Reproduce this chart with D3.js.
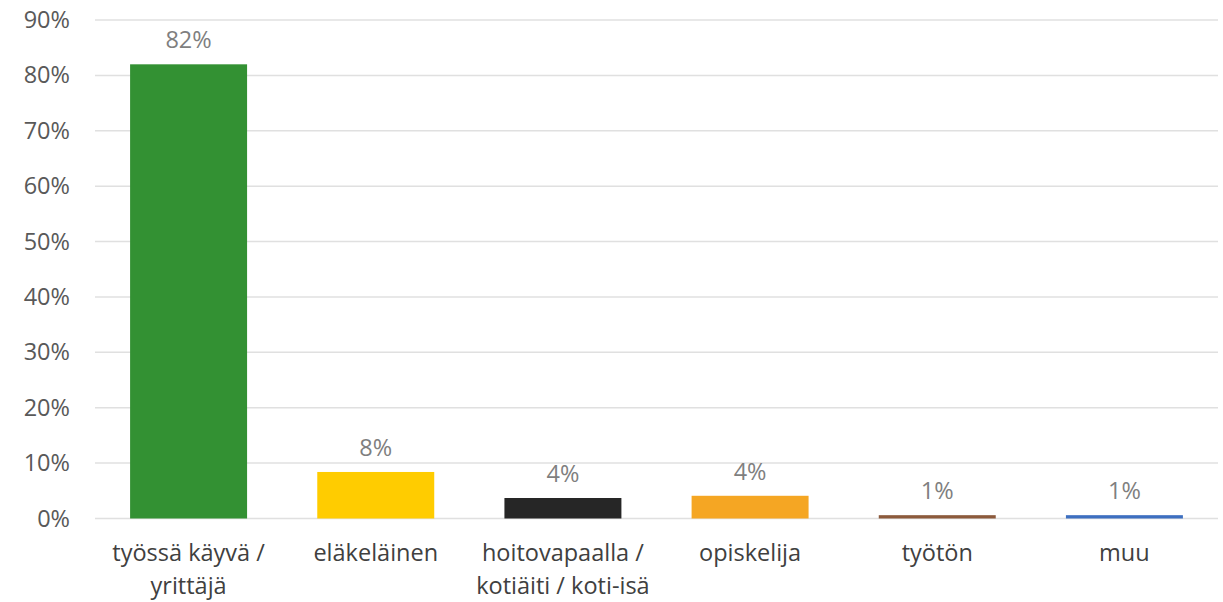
<!DOCTYPE html>
<html><head><meta charset="utf-8">
<script src="https://cdn.jsdelivr.net/npm/d3@7"></script>
<style>body{margin:0;background:#fff;} svg{display:block;font-family:"Open Sans",sans-serif;}</style>
</head><body>
<svg id="c" width="1223" height="602"></svg>
<script>
const categories = [["työssä käyvä /","yrittäjä"],["eläkeläinen"],["hoitovapaalla /","kotiäiti / koti-isä"],["opiskelija"],["työtön"],["muu"]];
const values = [82, 8.4, 3.7, 4.1, 0.6, 0.6];
const labels = ["82%","8%","4%","4%","1%","1%"];
const colors = ["#339133","#ffcc00","#262626","#f5a623","#8c5a3c","#3d6fc0"];
const yTicks = [0,10,20,30,40,50,60,70,80,90];

const svg = d3.select("#c");
const m = {l:95, r:5, t:20, b:83.5};
const W = 1223, H = 602;
const x = d3.scaleBand().domain(d3.range(categories.length)).range([m.l, W-m.r]).paddingInner(0.375).paddingOuter(0.1875);
const y = d3.scaleLinear().domain([0,90]).range([H-m.b, m.t]);

svg.append("g").selectAll("line").data(yTicks).join("line")
  .attr("x1", m.l).attr("x2", W-m.r).attr("y1", d=>y(d)).attr("y2", d=>y(d))
  .attr("stroke", "#e0e0e0").attr("stroke-width", 1.5);

const ya = svg.append("g").attr("transform", `translate(${m.l},0)`)
  .call(d3.axisLeft(y).tickValues(yTicks).tickFormat(d=>d+"%").tickSize(0).tickPadding(25));
ya.select(".domain").remove();
ya.selectAll("text").attr("font-size", 23.5).attr("fill", "#595959").attr("font-family", "Open Sans");

svg.append("g").selectAll("rect").data(values).join("rect")
  .attr("x", (d,i)=>x(i)).attr("width", x.bandwidth())
  .attr("y", d=>y(d)).attr("height", d=>y(0)-y(d))
  .attr("fill", (d,i)=>colors[i]);

svg.append("g").selectAll("text").data(values).join("text")
  .attr("x", (d,i)=>x(i)+x.bandwidth()/2).attr("y", d=>y(d)-16)
  .attr("text-anchor","middle").attr("font-size", 23.5).attr("fill", "#7f7f7f")
  .text((d,i)=>labels[i]);

const ct = svg.append("g").selectAll("text").data(categories).join("text")
  .attr("x", (d,i)=>x(i)+x.bandwidth()/2).attr("y", 561)
  .attr("text-anchor","middle").attr("font-size", 23.5).attr("fill", "#404040");
ct.selectAll("tspan").data(d=>d).join("tspan")
  .attr("x", function(){return this.parentNode.getAttribute("x");})
  .attr("dy", (d,i)=>i===0?0:33).text(d=>d);
</script>
</body></html>
